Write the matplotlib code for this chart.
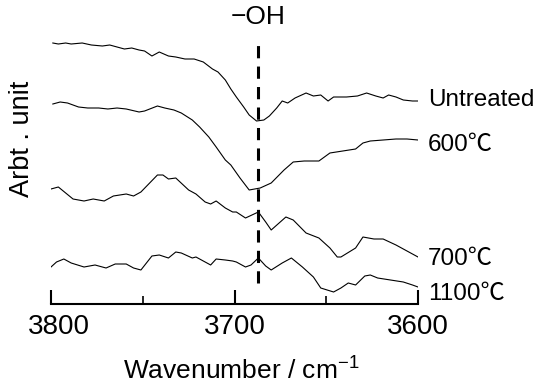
import numpy as np
import matplotlib
matplotlib.use('Agg')
from matplotlib import pyplot as plt
from matplotlib import transforms

# wavenumber (cm-1) and intensity (arbitrary units, already offset per curve)
wn_untreated = [3799, 3796, 3792, 3789, 3783, 3778, 3772, 3768, 3764, 3760, 3756, 3752,
                3749, 3745, 3741, 3736, 3732, 3727, 3722, 3717, 3712, 3709, 3705, 3702,
                3699, 3695, 3692, 3688, 3684, 3681, 3677, 3674, 3671, 3667, 3661, 3657,
                3653, 3649, 3646, 3639, 3633, 3628, 3623, 3619, 3616, 3612, 3608, 3603, 3600]
int_untreated = [26.1, 26.0, 26.1, 26.0, 26.1, 25.9, 25.8, 25.9, 25.7, 25.5, 25.6, 25.4,
                 25.3, 24.8, 25.2, 24.8, 24.7, 24.5, 24.5, 24.2, 23.5, 23.2, 22.4, 21.5,
                 20.7, 19.7, 18.9, 18.3, 18.4, 18.8, 19.6, 20.3, 20.1, 20.6, 21.1, 20.8,
                 20.9, 20.3, 20.7, 20.7, 20.8, 21.1, 20.8, 20.6, 20.9, 20.7, 20.4, 20.3, 20.3]

wn_600 = [3799, 3795, 3791, 3785, 3780, 3774, 3769, 3764, 3759, 3752, 3749, 3742, 3738,
          3733, 3729, 3723, 3719, 3714, 3710, 3705, 3702, 3697, 3692, 3689, 3686, 3680,
          3673, 3668, 3662, 3654, 3651, 3648, 3641, 3634, 3630, 3626, 3619, 3612, 3606, 3600]
int_600 = [20.0, 20.2, 20.1, 19.7, 19.6, 19.6, 19.5, 19.6, 19.5, 19.2, 19.3, 19.8, 19.6,
           19.4, 19.1, 18.4, 17.7, 16.7, 15.7, 14.4, 13.9, 12.6, 11.4, 11.5, 11.6, 12.1,
           13.4, 14.2, 14.3, 14.3, 14.7, 15.1, 15.3, 15.5, 16.1, 16.3, 16.4, 16.5, 16.5, 16.4]

wn_700 = [3800, 3796, 3792, 3788, 3782, 3777, 3771, 3766, 3759, 3755, 3751, 3742, 3739,
          3736, 3732, 3725, 3721, 3716, 3713, 3710, 3705, 3701, 3699, 3694, 3687, 3683,
          3680, 3672, 3668, 3661, 3654, 3648, 3644, 3642, 3634, 3630, 3624, 3619, 3612,
          3604, 3600]
int_700 = [11.5, 11.7, 11.1, 10.5, 10.3, 10.5, 10.3, 10.8, 11.0, 10.8, 11.2, 12.9, 12.9,
           12.5, 12.6, 11.4, 11.0, 10.2, 10.0, 10.3, 9.6, 9.2, 9.2, 8.6, 9.2, 8.2,
           7.4, 8.7, 8.4, 7.1, 6.6, 5.6, 4.7, 4.7, 5.6, 6.7, 6.5, 6.5, 5.9,
           5.1, 4.7]

wn_1100 = [3800, 3797, 3793, 3789, 3782, 3776, 3770, 3765, 3759, 3755, 3751, 3745, 3741,
           3736, 3732, 3729, 3723, 3721, 3713, 3710, 3705, 3701, 3699, 3694, 3691, 3687,
           3683, 3680, 3674, 3669, 3663, 3657, 3653, 3646, 3642, 3638, 3634, 3629, 3626,
           3622, 3615, 3608, 3603, 3600]
int_1100 = [3.7, 4.2, 4.5, 4.1, 3.7, 3.9, 3.6, 4.0, 4.0, 3.6, 3.4, 4.8, 4.9,
            4.6, 5.2, 5.1, 4.6, 4.7, 3.9, 4.5, 4.4, 4.3, 4.2, 3.7, 3.9, 4.6,
            3.8, 3.4, 4.1, 4.6, 3.7, 2.7, 1.6, 1.2, 1.6, 2.1, 1.9, 2.8, 2.9,
            2.6, 2.4, 2.2, 1.9, 1.7]

series = [(wn_untreated, int_untreated), (wn_600, int_600),
          (wn_700, int_700), (wn_1100, int_1100)]
labels = ['Untreated', '600\u2103', '700\u2103', '1100\u2103']
label_y = [20.4, 15.9, 4.5, 1.0]

oh_position = 3687
oh_range = (2.1, 26.1)

major_ticks = [3800, 3700, 3600]
minor_ticks = [3750, 3650]

plt.rcParams['font.family'] = ['Liberation Sans', 'Noto Sans CJK KR', 'DejaVu Sans']
plt.rcParams['mathtext.fontset'] = 'custom'
plt.rcParams['mathtext.rm'] = 'Liberation Sans'

fig = plt.figure(figsize=(5.35, 3.85), dpi=100)
ax = fig.add_axes([51 / 535, 81 / 385, 367 / 535, 304 / 385])

for wn, inten in series:
    ax.plot(wn, inten, color='black', lw=0.8)

ax.plot([oh_position, oh_position], oh_range, color='black', lw=2.2,
        dashes=(4, 2.7), solid_capstyle='butt', dash_capstyle='butt')
ax.text(oh_position, 28.7, '\u2212OH', fontsize=19, ha='center', va='center')

for lab, y in zip(labels, label_y):
    ax.text(3594.5, y, lab, fontsize=17.5, ha='left', va='center')

ax.set_xlim(3800, 3600)
ax.set_ylim(0, 30.4)
for side in ['left', 'right', 'top']:
    ax.spines[side].set_visible(False)
ax.spines['bottom'].set_linewidth(1.5)
ax.set_yticks([])
ax.set_xticks(major_ticks)
ax.set_xticks(minor_ticks, minor=True)
ax.tick_params(axis='x', which='major', direction='in', length=10, width=1.5,
               labelsize=20, pad=7)
ax.tick_params(axis='x', which='minor', direction='in', length=6, width=1.2)

# the leftmost label sits a little right of its tick in the original
first = ax.get_xticklabels()[0]
first.set_transform(first.get_transform() +
                    transforms.ScaledTranslation(8 / 100, 0, fig.dpi_scale_trans))

ax.set_xlabel(r'Wavenumber / cm$^{\mathregular{-1}}$', fontsize=19)
ax.xaxis.set_label_coords(0.518, -0.217)
ax.xaxis.label.set_verticalalignment('center')
ax.set_ylabel('Arbt . unit', fontsize=19.5)
ax.yaxis.set_label_coords(-0.079, 0.544)
ax.yaxis.label.set_verticalalignment('center')
ax.yaxis.label.set_horizontalalignment('center')

fig.savefig('out.png', dpi=100)
